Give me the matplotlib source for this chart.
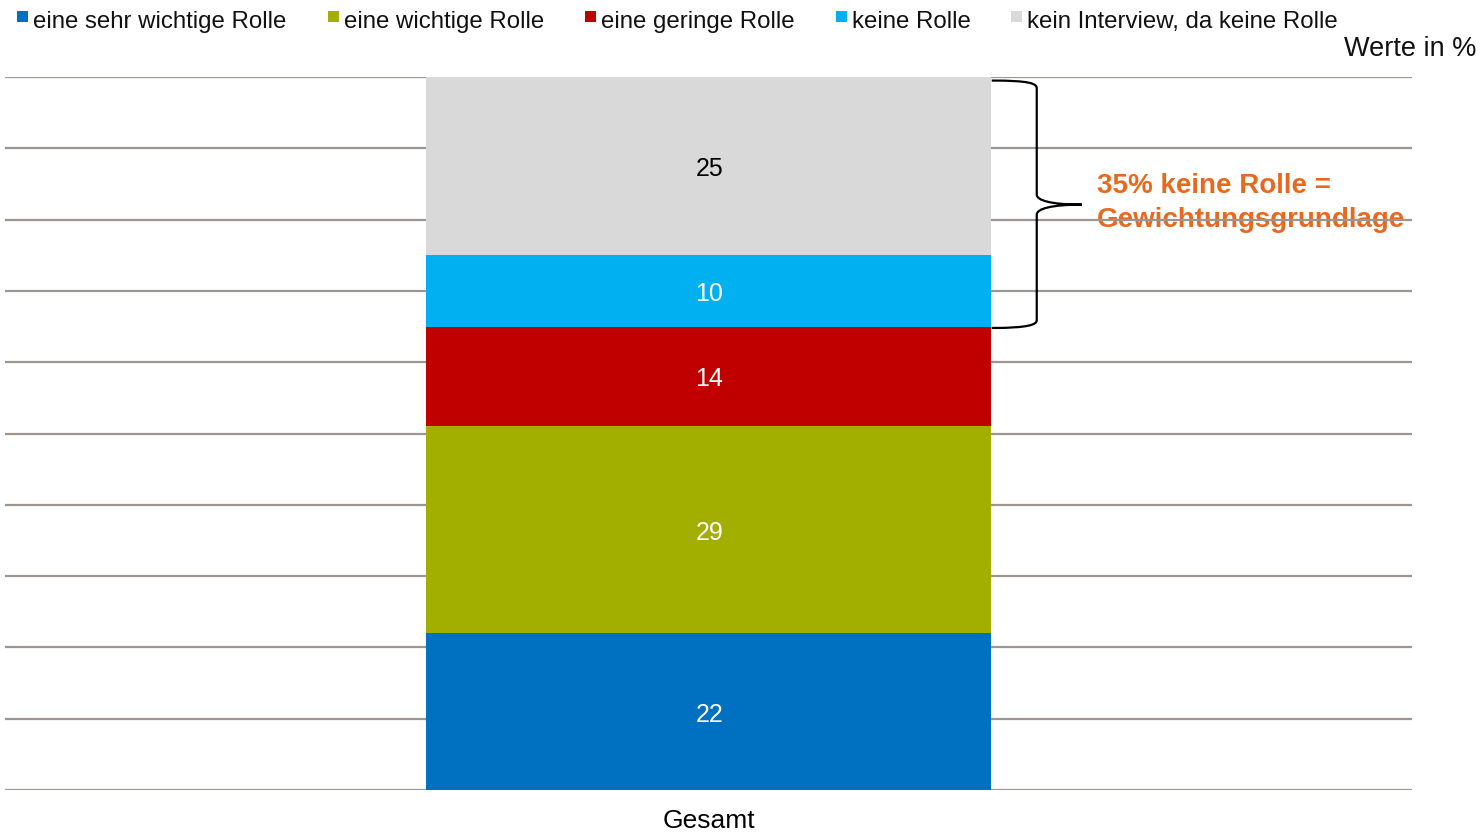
import matplotlib
matplotlib.use("Agg")
import matplotlib.pyplot as plt
from matplotlib.path import Path
from matplotlib.patches import PathPatch, Rectangle
import matplotlib.transforms as mtransforms

plt.rcParams['font.family'] = ['Liberation Sans', 'DejaVu Sans']

categories = ["Gesamt"]
series_names = ["eine sehr wichtige Rolle", "eine wichtige Rolle", "eine geringe Rolle",
                "keine Rolle", "kein Interview, da keine Rolle"]
series_values = [22, 29, 14, 10, 25]
series_colors = ["#0070C0", "#A2AF00", "#C00000", "#00B0F0", "#D9D9D9"]
label_colors = ["white", "white", "white", "white", "black"]
y_ticks = list(range(0, 101, 10))
annotation = "35% keine Rolle =\nGewichtungsgrundlage"
unit_text = "Werte in %"

W, H = 1484, 836
fig = plt.figure(figsize=(W / 100, H / 100), dpi=100)
ax = fig.add_axes([5 / W, (H - 790) / H, 1407 / W, 713 / H])
ax.set_xlim(-1, 1)
ax.set_ylim(0, 100)
for s in ax.spines.values():
    s.set_visible(False)
ax.set_yticks([])
ax.set_xticks([0])
ax.set_xticklabels(categories, fontsize=19)
ax.tick_params(axis='x', length=0, pad=14)

grid_color = "#9C9590"
for t in y_ticks:
    ax.axhline(t, color=grid_color, lw=1.6, zorder=1)

label_trans = mtransforms.offset_copy(ax.transData, fig=fig, x=1, y=-3, units='dots')
bottom = 0
for v, c, lc in zip(series_values, series_colors, label_colors):
    ax.bar(0, v, bottom=bottom, width=0.802, color=c, zorder=2, linewidth=0)
    ax.text(0, bottom + v / 2, str(v), ha='center', va='center', fontsize=18,
            color=lc, zorder=3, transform=label_trans)
    bottom += v

# brace spanning "keine Rolle" + "kein Interview"
lo = sum(series_values[:3])
hi = sum(series_values)
trans = mtransforms.blended_transform_factory(ax.transAxes, ax.transData)
x0, x1, x2 = 0.7013, 0.7333, 0.7653
tip = 82.1
verts = [
    (x0, hi - 0.5), (x1 - 0.005, hi - 0.5), (x1, hi - 0.9), (x1, hi - 1.6),
    (x1, tip + 1.4),
    (x1, tip + 0.6), (x1 + 0.01, tip), (x2, tip),
    (x1 + 0.01, tip), (x1, tip - 0.6), (x1, tip - 1.4),
    (x1, lo + 0.9),
    (x1, lo + 0.3), (x1 - 0.005, lo - 0.2), (x0, lo - 0.2),
]
codes = [Path.MOVETO, Path.CURVE4, Path.CURVE4, Path.CURVE4,
         Path.LINETO,
         Path.CURVE4, Path.CURVE4, Path.CURVE4,
         Path.CURVE4, Path.CURVE4, Path.CURVE4,
         Path.LINETO,
         Path.CURVE4, Path.CURVE4, Path.CURVE4]
ax.add_patch(PathPatch(Path(verts, codes), transform=trans, fill=False,
                       edgecolor="black", lw=1.6, zorder=4, clip_on=False))

ax.text(0.776, 82.3, annotation, transform=trans, ha='left', va='center',
        fontsize=20, fontweight='bold', color="#E8691E", linespacing=1.38,
        zorder=0.5)

# legend
leg_x = [17, 328, 585, 836, 1011]
for x, name, c in zip(leg_x, series_names, series_colors):
    fig.patches.append(Rectangle((x / W, (H - 22) / H), 11 / W, 11 / H,
                                 transform=fig.transFigure, facecolor=c,
                                 edgecolor='none'))
    fig.text((x + 16) / W, (H - 22) / H, name, fontsize=17.3, ha='left',
             va='center', color="#111111")

fig.text(1476 / W, (H - 49) / H, unit_text, fontsize=19.5, ha='right',
         va='center', color="#111111")

fig.savefig("out.png", dpi=100, facecolor="white")
